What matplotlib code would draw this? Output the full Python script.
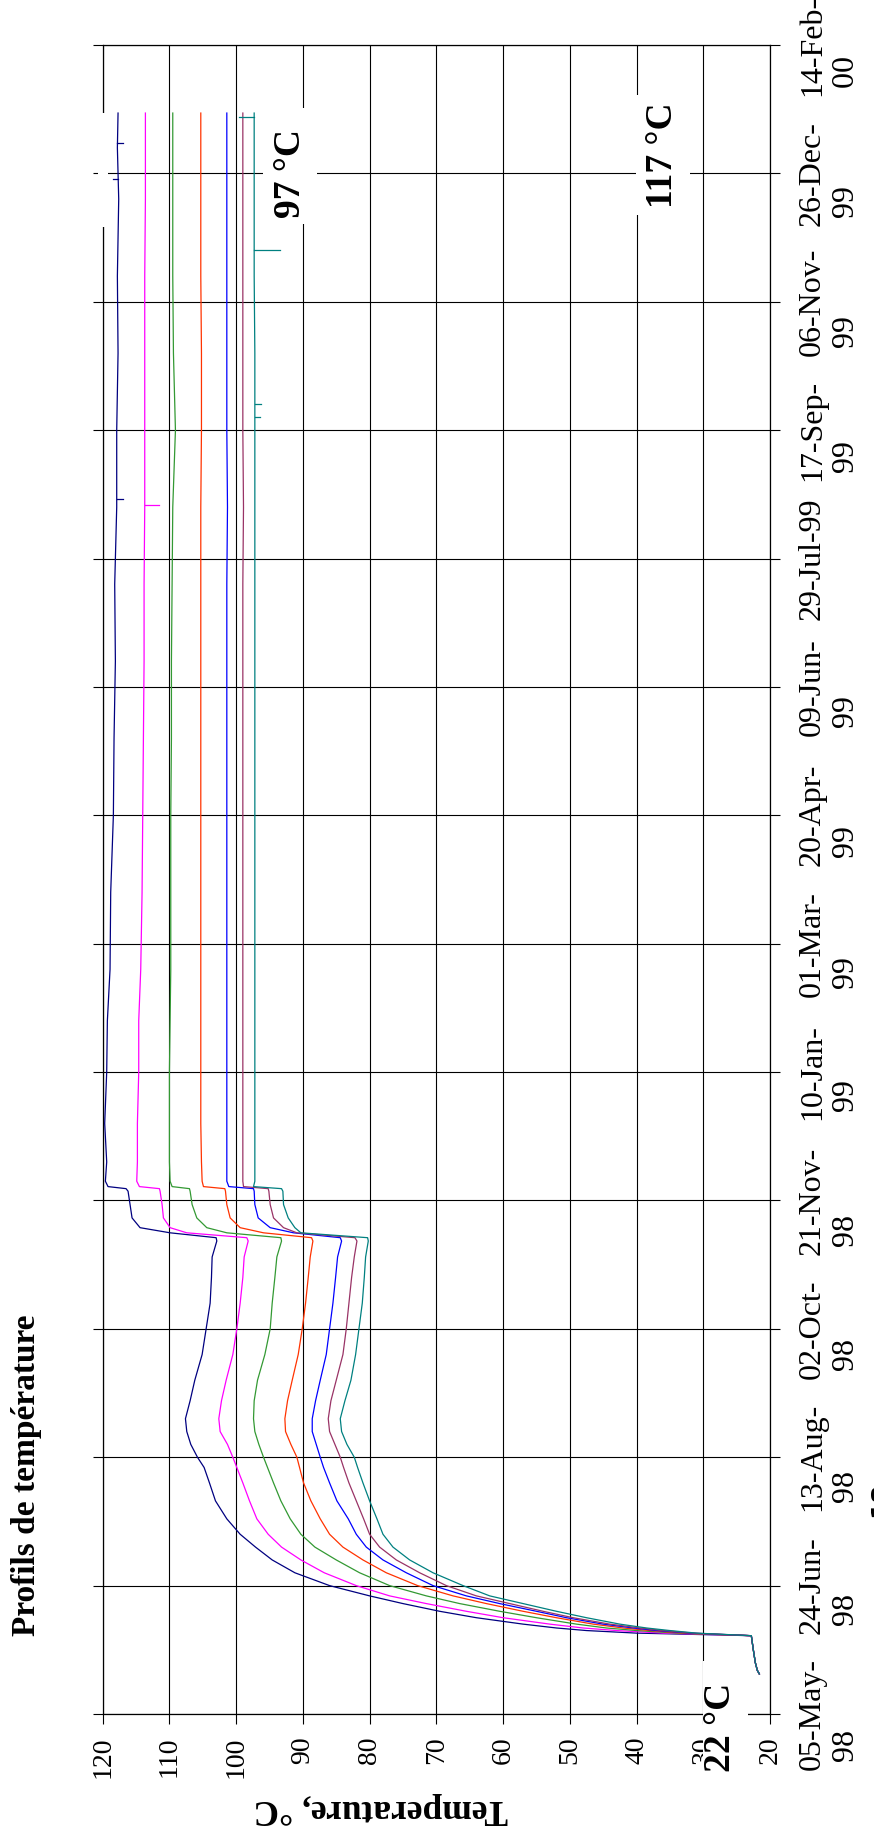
"""Profils de température - chart drawn rotated a quarter turn, as in the scanned page."""

import numpy as np
import matplotlib
matplotlib.use('Agg')
import matplotlib.pyplot as plt
from matplotlib.patches import Rectangle

# Date axis: days counted from 05-May-98, one tick every 50 days
tick_days = list(range(0, 651, 50))
tick_labels = ['05-May-\n 98', '24-Jun-\n 98', '13-Aug-\n 98', '02-Oct-\n 98',
               '21-Nov-\n 98', '10-Jan-\n 99', '01-Mar-\n 99', '20-Apr-\n 99',
               '09-Jun-\n 99', '29-Jul-99', '17-Sep-\n 99', '06-Nov-\n 99',
               '26-Dec-\n 99', '14-Feb-\n 00']
temp_ticks = list(range(20, 121, 10))

# Sample days (since 05-May-98) shared by all sensors
days = [15.6, 17, 20, 25, 30.5,
        31.5, 32.5, 33.5, 35, 37.5, 40, 43, 46, 50,
        55, 60, 65, 70, 76, 83, 90, 96, 100,
        105, 110, 115, 122, 130, 140, 150, 160, 170, 178,
        184.2, 185.5, 187.4, 189.4, 193.2, 198.4, 203.6, 204.6, 205.4, 207.5,
        215, 230, 250, 270, 290, 320, 350, 380, 410, 440, 470, 500, 530,
        560, 590, 610, 623.5]

t_navy = [21.6, 21.9, 22.2, 22.5, 22.8,
          40, 47.5, 52, 57, 64, 69.5, 75, 80, 86,
          91.2, 94.6, 97.1, 99.4, 101.4, 103.1, 104, 104.8, 105.8,
          106.8, 107.4, 107.6, 106.9, 106.2, 105.1, 104.5, 103.9, 103.7, 103.6,
          102.9, 103.0, 109.9, 114.4, 115.6, 115.9, 116.2, 116.5, 119.2, 119.6,
          119.4, 119.7, 119.4, 119.3, 118.9, 118.8, 118.4, 118.3, 118.1, 118.2,
          117.9, 117.9, 117.7, 117.8, 117.6, 117.8, 117.7]
t_magenta = [21.6, 21.9, 22.2, 22.5, 22.8,
             36, 43, 48, 53, 60, 65.5, 71.5, 77, 82,
             86.8, 90.3, 93.2, 95.2, 96.9, 98, 99, 99.9, 100.5,
             101.3, 102.4, 102.6, 102.2, 101.5, 100.5, 99.9, 99.4, 99.0, 98.8,
             98.2, 98.4, 107.4, 109.9, 110.9, 111.1, 111.4, 111.5, 114.5, 114.9,
             114.8, 114.8, 114.6, 114.6, 114.3, 114.1, 114.0, 113.9, 113.8, 113.8,
             113.7, 113.7, 113.7, 113.7, 113.6, 113.6, 113.6]
t_green = [21.6, 21.9, 22.2, 22.5, 22.8,
           34, 40, 44.5, 49, 55, 60.5, 66.5, 71.5, 77,
           81.5, 85, 88.2, 90.3, 91.9, 93.3, 94.4, 95.3, 95.9,
           96.6, 97.2, 97.4, 97.3, 96.8, 95.7, 94.9, 94.6, 94.2, 93.9,
           93.2, 93.3, 101.4, 104.4, 105.9, 106.6, 106.9, 107.0, 109.6, 109.9,
           110.0, 110.0, 110.0, 109.9, 109.8, 109.8, 109.8, 109.7, 109.7, 109.6,
           109.5, 109.1, 109.4, 109.5, 109.5, 109.5, 109.5]
t_red = [21.6, 21.9, 22.2, 22.5, 22.8,
         33, 38, 42, 46.5, 52, 57, 62.5, 67.5, 72.8,
         77.5, 81, 84, 86, 87.4, 88.8, 89.9, 90.5, 90.9,
         91.8, 92.6, 92.7, 92.3, 91.6, 90.7, 90.1, 89.6, 89.2, 88.9,
         88.5, 88.7, 95.9, 99.4, 100.9, 101.4, 101.6, 101.7, 104.9, 105.1,
         105.2, 105.3, 105.3, 105.3, 105.3, 105.3, 105.3, 105.3, 105.3, 105.3,
         105.3, 105.2, 105.2, 105.3, 105.3, 105.3, 105.3]
t_blue = [21.6, 21.9, 22.2, 22.5, 22.8,
          32, 37, 40.5, 45, 50.5, 55, 60.5, 65.5, 70.5,
          74.5, 78, 80.5, 82, 83.2, 84.9, 86, 86.9, 87.4,
          88, 88.6, 88.6, 88.1, 87.4, 86.5, 86, 85.5, 85.1, 84.8,
          84.2, 84.4, 91.4, 94.9, 96.7, 97.2, 97.3, 97.4, 101.1, 101.4,
          101.4, 101.4, 101.4, 101.4, 101.4, 101.4, 101.4, 101.4, 101.4, 101.4,
          101.3, 101.4, 101.4, 101.4, 101.4, 101.4, 101.4]
t_mauve = [21.6, 21.9, 22.2, 22.5, 22.8,
           31.5, 36, 39.5, 44, 49.5, 54, 59, 64, 68.5,
           72.5, 76, 78.5, 80, 80.9, 82, 83.1, 83.9, 84.4,
           85.2, 86, 86.2, 85.8, 85, 84, 83.5, 83.1, 82.7, 82.3,
           81.9, 82.2, 90.9, 92.9, 94.4, 94.9, 95.1, 95.2, 98.9, 99.0,
           99.0, 99.0, 99.0, 99.0, 99.0, 99.0, 99.0, 99.0, 99.0, 99.0,
           98.9, 99.0, 99.0, 99.0, 99.0, 99.0, 99.0]
t_teal = [21.6, 21.9, 22.2, 22.5, 22.8,
          31, 35, 38.5, 42.5, 47.5, 52, 57, 62, 66,
          70.5, 74, 76.5, 78, 78.9, 80, 81, 81.8, 82.3,
          83.4, 84.2, 84.4, 83.7, 82.8, 82.1, 81.6, 81.1, 80.8, 80.6,
          80.2, 80.3, 90.3, 91.2, 92.2, 92.9, 93.0, 93.2, 97.4, 97.2,
          97.2, 97.2, 97.2, 97.2, 97.2, 97.2, 97.2, 97.2, 97.2, 97.2,
          97.2, 97.2, 97.2, 97.3, 97.3, 97.3, 97.3]

series = [t_navy, t_magenta, t_green, t_red, t_blue, t_mauve, t_teal]
colors = ['#000080', '#FF00FF', '#339933', '#FF3300', '#0000FF', '#993366', '#008080']

# Single-sample glitches in the logger record: (series index, day, temperature)
glitches = [(6, 622, 99.6), (6, 570, 93.4), (6, 505, 96.5), (6, 510, 96.3),
            (1, 471, 111.5), (0, 473, 117.0), (0, 612, 116.9), (0, 598, 118.5)]

W, H = 874, 1843
plt.rcParams['font.family'] = ['Liberation Serif', 'DejaVu Serif']


def fx(px):
    return px / W


def fy(py):
    return 1 - py / H


fig = plt.figure(figsize=(W / 100, H / 100), dpi=100)
ax = fig.add_axes([fx(102.7), fy(1714), fx(770) - fx(102.7), fy(45) - fy(1714)])

for temps, col in zip(series, colors):
    ax.plot(temps, days, color=col, lw=0.9, zorder=3)

for idx, day, temp in glitches:
    base = np.interp(day, days, series[idx])
    ax.plot([base, temp], [day, day], color=colors[idx], lw=0.9, zorder=3)

ax.set_xlim(120, 20)
ax.set_ylim(0, 650)
ax.set_axisbelow(True)
ax.grid(True, color='black', linewidth=0.8)
for sp in ax.spines.values():
    sp.set_color('black')
    sp.set_linewidth(0.9)

ax.set_xticks(temp_ticks)
ax.set_xticklabels([str(t) for t in temp_ticks])
ax.tick_params(axis='x', direction='out', length=7.2, width=0.8,
               labelsize=20, pad=9, labelrotation=90)

ax.set_yticks(tick_days)
ax.set_yticklabels(tick_labels)
ax.tick_params(axis='y', direction='out', length=7.2, width=0.8,
               left=True, right=True, labelleft=False, labelright=True,
               labelsize=23, pad=13, labelrotation=90)
for tk in ax.yaxis.get_major_ticks():
    tk.label2.set_horizontalalignment('left')
    tk.label2.set_verticalalignment('center')
    tk.label2.set_multialignment('left')
    tk.label2.set_linespacing(1.22)


def white_box(x0, y0, x1, y1):
    fig.add_artist(Rectangle((fx(x0), fy(y1)), fx(x1) - fx(x0), fy(y0) - fy(y1),
                             transform=fig.transFigure, facecolor='white',
                             edgecolor='none', zorder=5))


white_box(263, 108, 317, 224)
white_box(636, 95, 690, 215)
white_box(703, 1661, 748, 1790)
white_box(98, 113, 108, 227)

label_kw = dict(rotation=90, ha='center', va='center', fontsize=27,
                fontweight='bold', zorder=6)
fig.text(fx(290), fy(173), '97 °C', **label_kw)
fig.text(fx(663), fy(155), '117 °C', **label_kw)
fig.text(fx(720), fy(1727), '22 °C', **label_kw)

fig.text(fx(27), fy(1475), 'Profils de température', rotation=90,
         ha='center', va='center', fontsize=24, fontweight='bold')
fig.text(fx(381), fy(1808), 'Temperature, °C', rotation=180,
         ha='center', va='center', fontsize=25.5, fontweight='bold')

# page number peeking in at the right edge of the scan
fig.text(fx(868), fy(1500), '18', rotation=90, ha='left', va='center',
         fontsize=18, fontweight='bold', family='DejaVu Sans')

fig.savefig('out.png', dpi=100)
plt.close(fig)
